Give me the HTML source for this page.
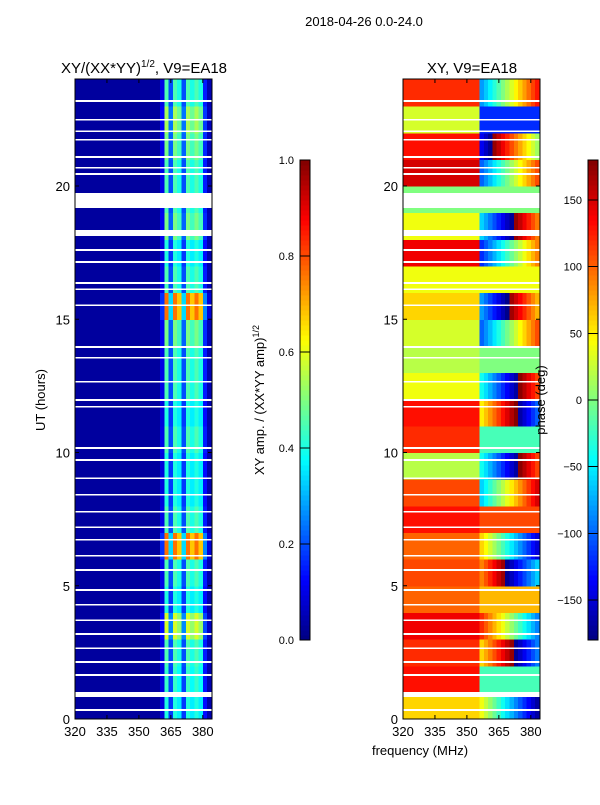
<!DOCTYPE html>
<html><head><meta charset="utf-8"><style>
body{margin:0;background:#fff;font-family:"Liberation Sans",sans-serif}
svg text{font-family:"Liberation Sans",sans-serif}
</style></head><body>
<svg id="fig" width="600" height="800" xmlns="http://www.w3.org/2000/svg">
<rect width="600" height="800" fill="#fff"/>
<text x="364" y="26" font-size="13" text-anchor="middle">2018-04-26 0.0-24.0</text>
<text x="144" y="73" font-size="15" text-anchor="middle">XY/(XX*YY)<tspan dy="-6" font-size="10">1/2</tspan><tspan dy="6">, V9=EA18</tspan></text>
<text x="472" y="73" font-size="15" text-anchor="middle">XY, V9=EA18</text>
<g id="left" shape-rendering="crispEdges"></g>
<g id="right" shape-rendering="crispEdges"></g>
<g id="axes"></g>
<text x="45" y="400" font-size="13" text-anchor="middle" transform="rotate(-90 45 400)">UT (hours)</text>
<text x="420" y="755" font-size="13" text-anchor="middle">frequency (MHz)</text>
<text x="264" y="400" font-size="13" text-anchor="middle" transform="rotate(-90 264 400)">XY amp. / (XX*YY amp)<tspan dy="-5" font-size="9">1/2</tspan></text>
<text x="545" y="400" font-size="13" text-anchor="middle" transform="rotate(-90 545 400)">phase (deg)</text>
</svg>
<script>
const hours=[0,1,2,3,4,5,6,7,8,9,10,11,12,13,14,15,16,17,18,19,20,21,22,23];
const rowAmp=[0.9,0.95,1,1.3,0.9,1,1.7,1,0.9,0.9,1,0.9,1,1,1.1,1.7,1,0.9,1.1,1,1,1.1,1.2,1];
const chanAmp=[0.03,0.03,0.03,0.03,0.03,0.03,0.03,0.03,0.03,0.03,0.03,0.03,0.03,0.03,0.03,0.03,0.03,0.03,0.03,0.03,0.1,0.45,0.2,0.45,0.4,0.2,0.45,0.4,0.45,0.4,0.15,0.05];
const phaseLeft=[60,130,120,140,100,110,100,130,110,20,120,130,40,20,30,60,40,140,40,0,150,130,30,120];
const phaseRight=[40,-20,60,120,70,90,60,110,-60,-40,-20,50,-40,0,-100,-80,40,-120,-60,0,-100,-140,-120,-80];
const gapsHr=[[0.30,0.38],[0.83,1.01],[1.62,1.68],[2.11,2.17],[2.63,2.69],[3.16,3.22],[3.68,3.74],[4.25,4.31],[4.81,4.87],[5.56,5.62],[6.09,6.15],[6.69,6.75],[7.17,7.23],[7.74,7.80],[8.38,8.44],[9.01,9.07],[9.69,9.75],[10.14,10.20],[11.68,11.74],[11.94,12.0],[12.62,12.68],[13.52,13.58],[13.93,13.99],[15.50,15.56],[16.10,16.16],[16.33,16.39],[17.12,17.18],[17.57,17.63],[18.12,18.35],[19.17,19.74],[20.42,20.48],[20.65,20.71],[21.06,21.12],[21.70,21.76],[22.03,22.09],[22.45,22.51],[23.16,23.22]];
const xTicks=[320,335,350,365,380];
const yTicks=[0,5,10,15,20];
const cb1Ticks=[0,0.2,0.4,0.6,0.8,1.0];
const cb2Ticks=[-150,-100,-50,0,50,100,150];
const NS="http://www.w3.org/2000/svg";
function jet(v){v=Math.max(0,Math.min(1,v));const f=t=>Math.round(255*Math.max(0,Math.min(1,1.5-Math.abs(4*v-t))));return `rgb(${f(3)},${f(2)},${f(1)})`;}
function el(t,a,p){const e=document.createElementNS(NS,t);for(const k in a)e.setAttribute(k,a[k]);p.appendChild(e);return e;}
const y=h=>719-h*26.65;
function xs(x0){return f=>x0+(f-320)*2.13;}
const xl=xs(75),xr=xs(403);
const L=document.getElementById('left'),R=document.getElementById('right'),A=document.getElementById('axes');
hours.forEach((h,i)=>{chanAmp.forEach((c,k)=>{
  const f=320+2*k;
  const w=Math.min(4.8,212-xl(f));
  let r=el('rect',{x:xl(f),y:y(h+1),width:w,height:27.2,fill:jet(k>=20?Math.min(1,c*rowAmp[i]):c)},L);
  
  
  let ph=f<356?phaseLeft[i]:phaseRight[i]+(f-356)*((i%3)-1)*8;
  ph=((ph+180)%360+360)%360-180;
  let q=el('rect',{x:xr(f),y:y(h+1),width:w,height:27.2,fill:jet((ph+180)/360)},R);
  
  
});});
gapsHr.forEach(g=>{[L,R].forEach((P,j)=>{
  let r=el('rect',{x:j?403:75,y:y(g[1]),width:137,height:(g[1]-g[0])*26.65,fill:'#fff'},P);
  
  
});});
[[75,xl],[403,xr]].forEach(([x0,sc])=>{
  el('rect',{x:x0,y:79,width:137,height:640,fill:'none',stroke:'#000','stroke-width':1},A);
  xTicks.forEach(t=>{const x=sc(t);el('line',{x1:x,x2:x,y1:719,y2:715,stroke:'#000'},A);el('line',{x1:x,x2:x,y1:79,y2:83,stroke:'#000'},A);
    const tx=el('text',{x:x,y:736,'font-size':13,'text-anchor':'middle'},A);tx.textContent=t;
    });
  yTicks.forEach(t=>{const yy=y(t);el('line',{x1:x0,x2:x0+4,y1:yy,y2:yy,stroke:'#000'},A);el('line',{x1:x0+137,x2:x0+133,y1:yy,y2:yy,stroke:'#000'},A);
    const tx=el('text',{x:x0-5,y:yy+5,'font-size':13,'text-anchor':'end'},A);tx.textContent=t;
    });
});
function cbar(x0,ticks,lo,hi,name){
  const g=el('g',{'shape-rendering':'crispEdges'},A);
  
  
  for(let i=0;i<96;i++){el('rect',{x:x0,y:640-(i+1)*5,width:10,height:5.5,fill:jet((i+0.5)/96)},g);}
  el('rect',{x:x0,y:160,width:10,height:480,fill:'none',stroke:'#000'},g);
  ticks.forEach(t=>{const yy=640-(t-lo)/(hi-lo)*480;el('line',{x1:x0,x2:x0+10,y1:yy,y2:yy,stroke:'#000'},g);
    const tx=el('text',{x:x0-6,y:yy+4,'font-size':11,'text-anchor':'end'},g);tx.textContent=(hi<=1?t.toFixed(1):(t<0?'\u2212'+(-t):t));
    });
}
cbar(300,cb1Ticks,0,1,'amplitude-colorbar');
cbar(588,cb2Ticks,-180,180,'phase-colorbar');
</script>
</body></html>
